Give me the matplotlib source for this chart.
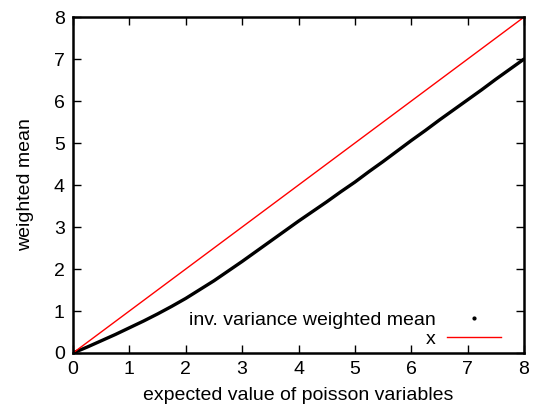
import matplotlib
matplotlib.use("Agg")
import matplotlib.pyplot as plt
from matplotlib.lines import Line2D

# expected value of the poisson variables
lam = [0.0, 0.25, 0.5, 0.75, 1.0, 1.25, 1.5, 1.75, 2.0, 2.25, 2.5, 2.75,
       3.0, 3.25, 3.5, 3.75, 4.0, 4.25, 4.5, 4.75, 5.0, 5.25, 5.5, 5.75,
       6.0, 6.25, 6.5, 6.75, 7.0, 7.25, 7.5, 7.75, 8.0]
# inverse-variance weighted mean
wmean = [0.0, 0.14, 0.29, 0.44, 0.60, 0.76, 0.93, 1.11, 1.30, 1.51, 1.72, 1.95,
         2.18, 2.42, 2.66, 2.90, 3.14, 3.37, 3.60, 3.84, 4.07, 4.32, 4.56, 4.81,
         5.06, 5.30, 5.55, 5.79, 6.03, 6.27, 6.52, 6.76, 7.00]
ident = [0, 8]

plt.rcParams['font.family'] = ['Liberation Sans', 'DejaVu Sans']
plt.rcParams['font.size'] = 14

fig = plt.figure(figsize=(5.34, 4.17), dpi=100)
ax = fig.add_axes([0.1367, 0.1535, 0.8446, 0.8055])

ax.plot(lam, wmean, color='black', lw=2.4, solid_capstyle='round', solid_joinstyle='round')
ax.plot(ident, ident, color='red', lw=1.0)

ax.set_xlim(0, 8)
ax.set_ylim(0, 8)
ax.set_xticks(range(9))
ax.set_yticks(range(9))
ax.tick_params(direction='in', top=True, right=True, length=6, width=1, pad=6)
for sp in ax.spines.values():
    sp.set_linewidth(1.8)

ax.set_xlabel('expected value of poisson variables', labelpad=6)
ax.set_ylabel('weighted mean', labelpad=14)

h1 = Line2D([], [], ls='none', marker='o', ms=2, color='black')
h2 = Line2D([], [], color='red', lw=1.0)
ax.legend([h1, h2], ['inv. variance weighted mean', 'x'], loc='lower right',
          bbox_to_anchor=(0.98, -0.025), frameon=False, markerfirst=False,
          handlelength=2.8, handletextpad=0.6, labelspacing=0.05,
          borderpad=0.2)

fig.savefig('out.png', dpi=100)
